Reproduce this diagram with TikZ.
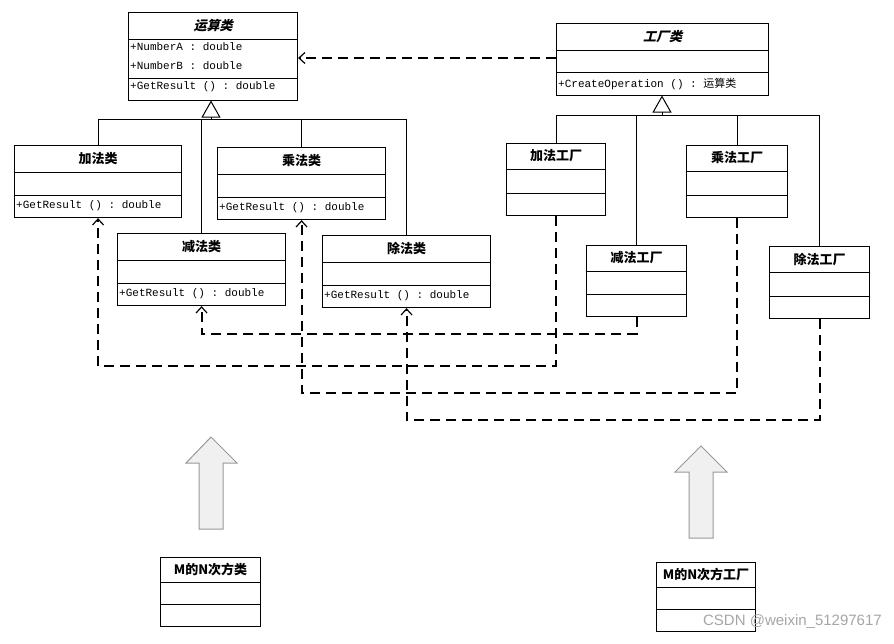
\documentclass[tikz,border=0pt]{standalone}
\usepackage{fontspec}
\setmainfont{Liberation Serif}
\setmonofont{Liberation Mono}
\newfontfamily\cjk{Noto Sans CJK SC}
\newfontfamily\cjki{Noto Sans CJK SC}[FakeSlant=0.25]
\newfontfamily\wmfont{Liberation Sans}
\usetikzlibrary{arrows.meta}
\tikzset{
  box/.style={draw, line width=1.1pt, inner sep=0pt},
  sep/.style={line width=0.9pt},
  ttl/.style={font=\cjk\bfseries\fontsize{13}{13}\selectfont, inner sep=0pt},
  ttli/.style={font=\cjki\bfseries\fontsize{13}{13}\selectfont, inner sep=0pt},
  mem/.style={font=\ttfamily\fontsize{11}{11}\selectfont, anchor=west, inner sep=1pt},
  inh/.style={line width=0.7pt},
  gen/.style={inh, -{Triangle[open, length=17pt, width=19pt, line width=1pt]}},
  dep/.style={line width=2pt, dash pattern=on 10pt off 6pt, -{Straight Barb[length=6pt,width=11pt,line width=1.2pt]}},
  big/.style={draw=gray!80, fill=gray!12, line width=1pt}
}
\newcommand\umlc[9]{%
  \node[box, anchor=north west, minimum width=#4pt, minimum height={(#5+#6+#7)*1pt}] (#1) at (#2,#3) {};
  \draw[sep] ([yshift={-#5*1pt}]#1.north west) -- ([yshift={-#5*1pt}]#1.north east);
  \draw[sep] ([yshift={-(#5+#6)*1pt}]#1.north west) -- ([yshift={-(#5+#6)*1pt}]#1.north east);
  \node[#9] (#1-t) at ([yshift={-#5*0.5pt}]#1.north) {#8};
}
\begin{document}
\begin{tikzpicture}[x=1pt,y=-1pt]
\useasboundingbox[fill=white] (0,0) rectangle (894,643);
% abstract classes
\umlc{op}{128}{12}{169}{27}{39}{22}{运算类}{ttli}
\node[mem] (opa) at (129,47) {+NumberA : double};
\node[mem] (opb) at (129,66) {+NumberB : double};
\node[mem] (opm) at (129,87) {+GetResult () : double};
\umlc{fac}{556}{23}{212}{27}{22}{23}{工厂类}{ttli}
\node[mem] (facm) at (557,84) {+CreateOperation () : {\cjk 运算类}};
% concrete operations
\umlc{jia}{14}{145}{167}{27}{23}{22}{加法类}{ttl}
\node[mem] (jiam) at (15,206) {+GetResult () : double};
\umlc{cheng}{217}{147}{168}{27}{23}{22}{乘法类}{ttl}
\node[mem] (chengm) at (218,208) {+GetResult () : double};
\umlc{jian}{117}{233}{168}{27}{23}{22}{减法类}{ttl}
\node[mem] (jianm) at (118,294) {+GetResult () : double};
\umlc{chu}{322}{235}{168}{27}{23}{22}{除法类}{ttl}
\node[mem] (chum) at (323,296) {+GetResult () : double};
% factories
\umlc{jiaf}{506}{143}{99}{26}{24}{22}{加法工厂}{ttl}
\umlc{chengf}{686}{145}{101}{26}{24}{22}{乘法工厂}{ttl}
\umlc{jianf}{586}{245}{100}{26}{23}{22}{减法工厂}{ttl}
\umlc{chuf}{769}{246}{100}{26}{24}{22}{除法工厂}{ttl}
% M^N
\umlc{mn}{160}{557}{100}{25}{22}{22}{M的N次方类}{ttl}
\umlc{mnf}{656}{562}{99}{25}{22}{22}{M的N次方工厂}{ttl}
% inheritance left
\draw[inh] (jia.north) |- (chu.north |- 0,119) -- (chu.north);
\draw[inh] (jian.north) -- (jian.north |- 0,119);
\draw[inh] (cheng.north) -- (cheng.north |- 0,119);
\draw[gen] (211,119) -- (211,100.5);
% inheritance right
\draw[inh] (jiaf.north) |- (chuf.north |- 0,115) -- (chuf.north);
\draw[inh] (jianf.north) -- (jianf.north |- 0,115);
\draw[inh] (chengf.north) -- (chengf.north |- 0,115);
\draw[gen] (662,115) -- (662,95.5);
% dependencies
\draw[dep] (fac.west |- 0,58) -- (op.east |- 0,58);
\draw[dep] (jiaf.south) -- (jiaf.south |- 0,366) -| (jia.south);
\draw[dep] (jianf.south) -- (jianf.south |- 0,334) -| (jian.south);
\draw[dep] (chengf.south) -- (chengf.south |- 0,393) -| (cheng.south);
\draw[dep] (chuf.south) -- (chuf.south |- 0,420) -| (chu.south);
% big arrows
\draw[big] (199,529) -- (199,463) -- (186,463) -- (211,437) -- (237,463) -- (223,463) -- (223,529) -- cycle;
\draw[big] (689,538) -- (689,472) -- (675,472) -- (701,446) -- (727,472) -- (713,472) -- (713,538) -- cycle;
% watermark
\node[font=\wmfont\fontsize{15}{15}\selectfont, text=gray!70, anchor=east, inner sep=0pt] (wm) at (882,622) {CSDN @weixin\_51297617};
\end{tikzpicture}
\end{document}
